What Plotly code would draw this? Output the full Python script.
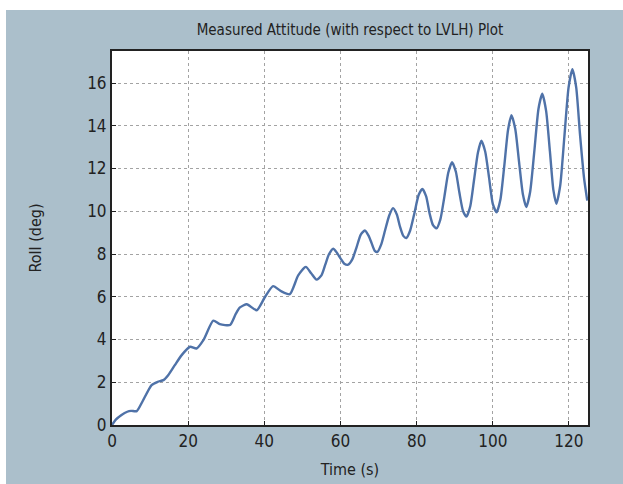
import plotly.graph_objects as go

time_s = [0, 1, 2.5, 4, 5, 6.5, 8, 10.4, 12, 13.5, 14.8, 16.5, 18.3, 20.5, 22.2, 24,
          26.6, 28.3, 31, 32.5, 33.6, 35.4, 38, 40.2, 42.3, 44.5, 46.7, 48.9, 50.9,
          52.3, 53.7, 55.0, 56.0, 57.0, 58.1, 59.1, 60.0, 61.0, 62.0, 63.1, 64.2, 65.3,
          66.4, 67.4, 68.2, 69.0, 69.7, 70.7, 71.7, 72.8, 73.8, 74.8, 75.6, 76.5,
          77.3, 78.3, 79.4, 80.5, 81.5, 82.5, 83.4, 84.3, 85.2, 86.2, 87.3, 88.3,
          89.3, 90.3, 91.2, 92.2, 93.1, 94.1, 95.1, 96.1, 97.0, 98.0, 99.0, 100.0,
          101.0, 102.0, 103.0, 104.0, 104.9, 105.9, 106.9, 107.9, 108.8, 109.8, 110.9,
          112.0, 113.0, 114.0, 115.0, 115.9, 116.7, 117.7, 118.8, 119.9, 120.9, 121.9,
          122.9, 124.0, 124.8]
roll_deg = [0, 0.25, 0.47, 0.62, 0.66, 0.65, 1.1, 1.87, 2.02, 2.1, 2.34, 2.8, 3.27, 3.66, 3.58, 3.97,
            4.88, 4.72, 4.68, 5.2, 5.5, 5.65, 5.37, 6.0, 6.5, 6.25, 6.12, 7.0, 7.4,
            7.1, 6.8, 7.0, 7.5, 8.0, 8.25, 8.05, 7.8, 7.55, 7.5, 7.75, 8.3, 8.9,
            9.1, 8.85, 8.5, 8.15, 8.1, 8.45, 9.1, 9.8, 10.15, 9.85, 9.3, 8.85,
            8.75, 9.1, 9.9, 10.75, 11.05, 10.7, 9.9, 9.35, 9.2, 9.6, 10.7, 11.8,
            12.3, 11.85, 10.9, 10.0, 9.75, 10.25, 11.5, 12.75, 13.3, 12.8, 11.6, 10.35,
            9.95, 10.55, 12.1, 13.8, 14.5, 13.85, 12.3, 10.8, 10.2, 10.9, 12.8,
            14.8, 15.5, 14.7, 12.8, 11.0, 10.35, 11.2, 13.5, 15.8, 16.65, 15.8,
            13.6, 11.5, 10.5]

x_ticks = [0, 20, 40, 60, 80, 100, 120]
y_ticks = [0, 2, 4, 6, 8, 10, 12, 14, 16]

title_text = "Measured Attitude (with respect to LVLH) Plot"
x_title = "Time (s)"
y_title = "Roll (deg)"

FONT = "Liberation Sans Narrow, DejaVu Sans Condensed, Arial Narrow, sans-serif"
BG = "#abbfcb"
INK = "#222222"

fig = go.Figure()
fig.add_trace(go.Scatter(x=time_s, y=roll_deg, mode="lines",
                         line=dict(color="#4f72a8", width=2.4, shape="spline", smoothing=0.6),
                         showlegend=False))

W, H = 623, 484
L, R, T, B = 112, 35, 51, 59
pw, ph = W - L - R, H - T - B

def px_to_paper_x(px):
    return (px - L) / pw

def py_to_paper_y(py):
    return (H - B - py) / ph

# white strips at top and left of the picture
fig.add_shape(type="rect", xref="paper", yref="paper", layer="below",
              x0=px_to_paper_x(-5), x1=px_to_paper_x(W + 5),
              y0=py_to_paper_y(10), y1=py_to_paper_y(-5),
              fillcolor="white", line=dict(width=0))
fig.add_shape(type="rect", xref="paper", yref="paper", layer="below",
              x0=px_to_paper_x(-5), x1=px_to_paper_x(6),
              y0=py_to_paper_y(H + 5), y1=py_to_paper_y(-5),
              fillcolor="white", line=dict(width=0))

axis_common = dict(showline=True, linecolor=INK, linewidth=2, mirror=True,
                   ticks="inside", ticklen=4, tickcolor=INK, automargin=False,
                   showgrid=True, gridcolor="#a3a3a3", griddash="dot", gridwidth=1,
                   zeroline=False, tickfont=dict(family=FONT, size=17, color=INK))

fig.update_layout(
    width=W, height=H,
    margin=dict(l=L, r=R, t=T, b=B),
    paper_bgcolor=BG, plot_bgcolor="white",
    title=dict(text=title_text, x=(L + pw / 2) / W, xanchor="center",
               y=1 - 30 / H, yanchor="middle",
               font=dict(family=FONT, size=15, color=INK)),
    xaxis=dict(range=[0, 125], tickvals=x_ticks, ticktext=[str(v) for v in x_ticks],
               title=dict(text=x_title, font=dict(family=FONT, size=16, color=INK), standoff=13),
               **axis_common),
    yaxis=dict(range=[0, 17.5], tickvals=y_ticks, ticktext=[str(v) for v in y_ticks],
               title=dict(text=y_title, font=dict(family=FONT, size=16, color=INK), standoff=42),
               **axis_common),
)

fig.write_html("out.html")
